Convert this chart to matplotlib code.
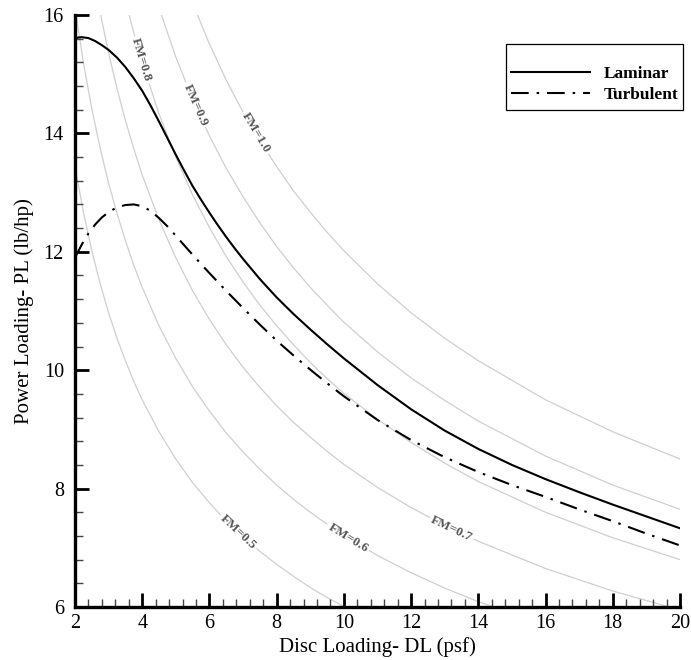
import numpy as np
import matplotlib
matplotlib.use("Agg")
import matplotlib.pyplot as plt
from matplotlib.ticker import MultipleLocator
from matplotlib.patches import Rectangle

plt.rcParams["font.family"] = ["Liberation Serif", "DejaVu Serif"]

# Figure of merit reference curves (PL)
fm_levels = [0.5, 0.6, 0.7, 0.8, 0.9, 1.0]
fm_dl = [2, 2.25, 2.5, 2.75, 3, 3.25, 3.5, 3.75, 4, 4.5, 5, 5.5, 6, 6.5, 7, 7.5, 8, 8.5, 9, 9.5, 10,
         11, 12, 13, 14, 16, 18, 20]
fm_05 = [13.44, 12.67, 12.02, 11.46, 10.97, 10.54, 10.16, 9.81, 9.50, 8.96, 8.50, 8.10, 7.76, 7.45, 7.18, 6.94,
         6.72, 6.52, 6.33, 6.16, 6.01, 5.73, 5.48, 5.27, 5.08, 4.75, 4.48, 4.25]
fm_06 = [16.12, 15.20, 14.42, 13.75, 13.16, 12.65, 12.19, 11.77, 11.40, 10.75, 10.20, 9.72, 9.31, 8.94, 8.62, 8.33,
         8.06, 7.82, 7.60, 7.40, 7.21, 6.87, 6.58, 6.32, 6.09, 5.70, 5.37, 5.10]
fm_07 = [18.81, 17.73, 16.82, 16.04, 15.36, 14.76, 14.22, 13.74, 13.30, 12.54, 11.90, 11.34, 10.86, 10.43, 10.05, 9.71,
         9.40, 9.12, 8.87, 8.63, 8.41, 8.02, 7.68, 7.38, 7.11, 6.65, 6.27, 5.95]
fm_08 = [21.50, 20.27, 19.23, 18.33, 17.55, 16.86, 16.25, 15.70, 15.20, 14.33, 13.60, 12.96, 12.41, 11.92, 11.49, 11.10,
         10.75, 10.43, 10.13, 9.86, 9.61, 9.17, 8.78, 8.43, 8.12, 7.60, 7.17, 6.80]
fm_09 = [24.18, 22.80, 21.63, 20.62, 19.75, 18.97, 18.28, 17.66, 17.10, 16.12, 15.29, 14.58, 13.96, 13.41, 12.93, 12.49,
         12.09, 11.73, 11.40, 11.10, 10.81, 10.31, 9.87, 9.49, 9.14, 8.55, 8.06, 7.65]
fm_10 = [26.87, 25.33, 24.03, 22.91, 21.94, 21.08, 20.31, 19.62, 19.00, 17.91, 16.99, 16.20, 15.51, 14.90, 14.36, 13.88,
         13.44, 13.03, 12.67, 12.33, 12.02, 11.46, 10.97, 10.54, 10.16, 9.50, 8.96, 8.50]
fm_label_dl = [6.85, 10.12, 13.2, 3.98, 5.58, 7.37]

# Laminar curve
lam_dl = [2.0, 2.1, 2.2, 2.4, 2.6, 2.8, 3.0, 3.25, 3.5, 3.75, 4.0, 4.25, 4.5, 4.75, 5.0, 5.25, 5.5, 5.75,
          6.0, 6.25, 6.5, 6.75, 7.0, 7.5, 8.0, 8.5, 9.0, 9.5, 10.0, 11.0, 12.0, 13.0, 14.0, 15.0, 16.0,
          17.0, 18.0, 19.0, 20.0]
lam_pl = [15.60, 15.62, 15.625, 15.61, 15.56, 15.49, 15.41, 15.28, 15.12, 14.93, 14.72, 14.47, 14.20, 13.92,
          13.64, 13.37, 13.11, 12.88, 12.66, 12.45, 12.25, 12.06, 11.88, 11.54, 11.23, 10.95, 10.69, 10.44,
          10.20, 9.75, 9.34, 8.98, 8.67, 8.40, 8.16, 7.94, 7.73, 7.53, 7.33]

# Turbulent curve
tur_dl = [2.0, 2.2, 2.4, 2.6, 2.8, 3.0, 3.25, 3.5, 3.75, 4.0, 4.25, 4.5, 4.75, 5.0, 5.25, 5.5, 6.0, 6.5,
          7.0, 7.5, 8.0, 8.5, 9.0, 9.5, 10.0, 11.0, 12.0, 13.0, 14.0, 15.0, 16.0, 17.0, 18.0, 19.0, 20.0]
tur_pl = [11.90, 12.12, 12.31, 12.46, 12.58, 12.67, 12.75, 12.79, 12.80, 12.77, 12.69, 12.57, 12.43, 12.27,
          12.11, 11.95, 11.64, 11.34, 11.05, 10.77, 10.50, 10.25, 10.01, 9.78, 9.56, 9.16, 8.82, 8.53, 8.28,
          8.06, 7.86, 7.65, 7.45, 7.24, 7.04]

fm_curves = [fm_05, fm_06, fm_07, fm_08, fm_09, fm_10]

fig = plt.figure(figsize=(6.91, 6.6), dpi=100)
ax = fig.add_axes([0.1085, 0.0803, 0.8755, 0.897])

# gray FM lines with inline labels
for fm, pl, lx in zip(fm_levels, fm_curves, fm_label_dl):
    ax.plot(fm_dl, pl, color="#cfcfcf", lw=0.9, zorder=1)
    ly = np.interp(lx, fm_dl, pl)
    dy = np.interp(lx + 0.2, fm_dl, pl) - np.interp(lx - 0.2, fm_dl, pl)
    ang = np.degrees(np.arctan2(dy, 0.4))
    ax.text(lx, ly, f"FM={fm:.1f}", rotation=ang, transform_rotates_text=True,
            rotation_mode="anchor", ha="center", va="center",
            fontsize=9.5, fontweight="bold", color="#555555", zorder=2,
            bbox=dict(facecolor="white", edgecolor="none", pad=1.5))

ax.plot(lam_dl, lam_pl, color="black", lw=1.5, label="Laminar", zorder=3)
ax.plot(tur_dl, tur_pl, color="black", lw=1.5, linestyle=(0, (8.5, 3.8, 1.2, 3.8)),
        label="Turbulent", zorder=3)

ax.set_xlim(2, 20)
ax.set_ylim(6, 16)
ax.xaxis.set_major_locator(MultipleLocator(2))
ax.xaxis.set_minor_locator(MultipleLocator(0.4))
ax.yaxis.set_major_locator(MultipleLocator(2))
ax.yaxis.set_minor_locator(MultipleLocator(0.4))

ax.spines["top"].set_visible(False)
ax.spines["right"].set_visible(False)
ax.spines["left"].set_linewidth(2.4)
ax.spines["bottom"].set_linewidth(2.4)
ax.tick_params(which="major", direction="in", length=10, width=2, labelsize=14.5, pad=5)
ax.tick_params(which="minor", direction="in", length=6, width=1, color="#444444")
ax.tick_params(axis="y", which="major", pad=8)

ax.set_xlabel("Disc Loading- DL (psf)", fontsize=15)
ax.set_ylabel("Power Loading- PL (lb/hp)", fontsize=15)
ax.xaxis.set_label_coords(0.5, -0.05)
ax.yaxis.set_label_coords(-0.068, 0.5)

# legend without frame, box drawn separately
leg = ax.legend(loc="upper left", bbox_to_anchor=(0.7391, 0.9004), bbox_transform=fig.transFigure,
                borderaxespad=0, borderpad=0, frameon=False,
                prop={"weight": "bold", "size": 12.5}, handlelength=4.55, handletextpad=0.8,
                labelspacing=0.31)
fig.patches.append(Rectangle((0.7323, 0.8333), 0.2561, 0.1, transform=fig.transFigure,
                             facecolor="none", edgecolor="black", lw=0.9))

fig.savefig("out.png", dpi=100)
